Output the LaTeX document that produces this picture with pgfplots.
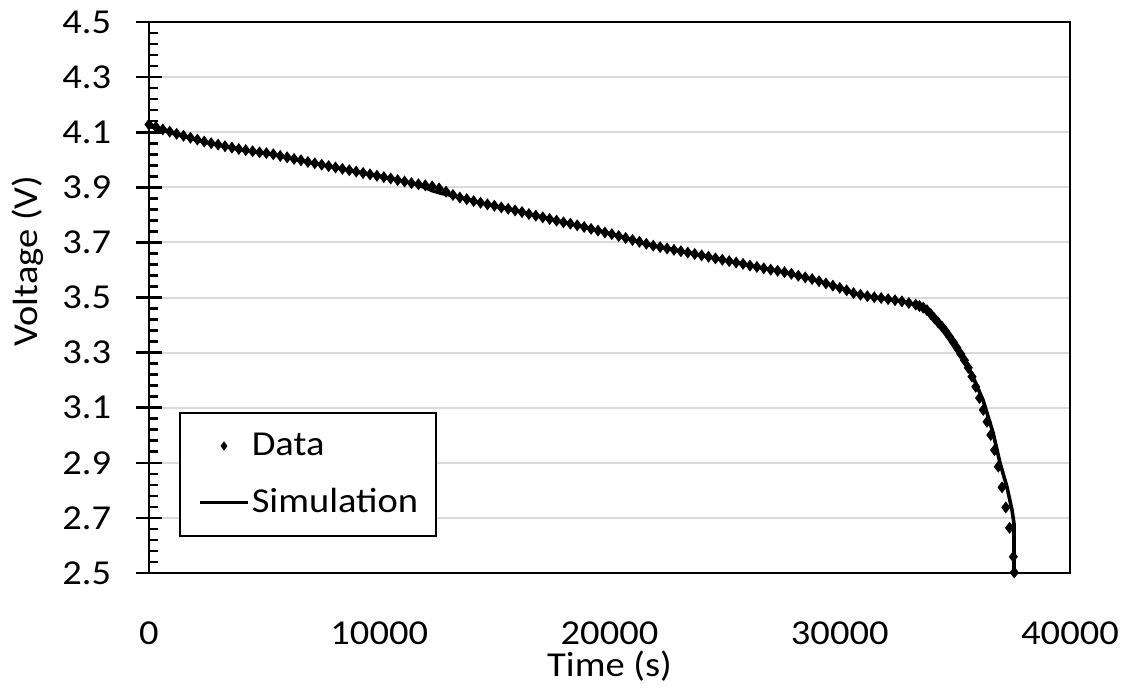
\documentclass[border=0pt]{standalone}
\usepackage{fontspec}
\setmainfont{Carlito}[FakeStretch=1.1]
\usepackage{pgfplots}
\usepackage{pgfplotstable}
\pgfplotsset{compat=1.18}

\definecolor{gridgray}{HTML}{D9D9D9}
\newcommand\chartfont{\fontsize{17.5}{21}\selectfont}

\pgfplotsset{
  datalegend/.style={legend image code/.code={%
    \draw[mark repeat=2, mark phase=2, ##1, mark size=1.9pt]
      plot coordinates {(0pt,0pt) (12pt,0pt) (24pt,0pt)};}},
  simlegend/.style={legend image code/.code={%
    \draw[##1] (0pt,0pt) -- (24pt,0pt);}},
}

% Measured cell voltage during discharge
\pgfplotstableread{
t V
0 4.128
300 4.119
600 4.110
900 4.102
1200 4.094
1500 4.087
1800 4.080
2100 4.073
2400 4.066
2700 4.060
3000 4.055
3300 4.049
3600 4.044
3900 4.039
4200 4.035
4500 4.031
4800 4.027
5100 4.024
5400 4.020
5700 4.014
6000 4.009
6300 4.003
6600 3.998
6900 3.992
7200 3.987
7500 3.982
7800 3.977
8100 3.972
8400 3.967
8700 3.962
9000 3.957
9300 3.952
9600 3.947
9900 3.942
10200 3.937
10500 3.932
10800 3.926
11100 3.921
11400 3.915
11700 3.911
12000 3.907
12300 3.903
12600 3.896
12900 3.884
13200 3.872
13500 3.863
13800 3.857
14100 3.850
14400 3.844
14700 3.838
15000 3.833
15300 3.827
15600 3.822
15900 3.816
16200 3.810
16500 3.803
16800 3.797
17100 3.791
17400 3.785
17700 3.779
18000 3.773
18300 3.768
18600 3.762
18900 3.756
19200 3.749
19500 3.743
19800 3.736
20100 3.730
20400 3.723
20700 3.716
21000 3.709
21300 3.702
21600 3.695
21900 3.688
22200 3.683
22500 3.678
22800 3.673
23100 3.668
23400 3.663
23700 3.658
24000 3.653
24300 3.648
24600 3.642
24900 3.637
25200 3.632
25500 3.627
25800 3.622
26100 3.616
26400 3.611
26700 3.606
27000 3.601
27300 3.597
27600 3.592
27900 3.586
28200 3.579
28500 3.573
28800 3.567
29100 3.559
29400 3.551
29700 3.543
30000 3.535
30300 3.526
30600 3.516
30900 3.510
31200 3.505
31500 3.501
31800 3.498
32100 3.494
32400 3.490
32700 3.486
33000 3.480
33299 3.474
33462 3.469
33625 3.463
33788 3.454
33951 3.440
34114 3.424
34277 3.409
34440 3.394
34603 3.377
34766 3.358
34929 3.338
35092 3.317
35255 3.295
35418 3.272
35581 3.245
35744 3.213
35907 3.176
36070 3.135
36233 3.092
36396 3.049
36559 3.001
36722 2.946
36885 2.886
37048 2.811
37211 2.738
37374 2.664
37537 2.559
37580 2.502
}\measured

% Model output
\pgfplotstableread{
t V
0 4.122
1042 4.096
2519 4.062
3952 4.037
5385 4.019
6862 3.992
8295 3.968
10032 3.940
11480 3.914
11900 3.902
12300 3.888
12700 3.878
13000 3.873
13362 3.866
14375 3.844
15808 3.818
17272 3.787
18718 3.760
20455 3.722
21890 3.688
23352 3.664
24798 3.639
26232 3.614
27695 3.590
28837 3.566
29865 3.539
30574 3.517
31168 3.505
31878 3.497
32600 3.488
33354 3.473
33702 3.460
34049 3.432
34483 3.390
34917 3.340
35352 3.284
35786 3.212
36221 3.128
36655 3.010
36959 2.900
37263 2.812
37480 2.729
37567 2.680
37567 2.500
}\simulated

\begin{document}
\begin{tikzpicture}
\path[use as bounding box] (-74.5pt,-57pt) rectangle (490.5pt,286.5pt);
\begin{axis}[
  scale only axis,
  width=460.5pt, height=275.5pt,
  xmin=0, xmax=40000, ymin=2.5, ymax=4.5,
  clip=false,
  axis line style={line width=1.3pt, black},
  xtick={0,10000,20000,30000,40000},
  xticklabels={0,10000,20000,30000,40000},
  ytick={2.5,2.7,2.9,3.1,3.3,3.5,3.7,3.9,4.1,4.3,4.5},
  yticklabels={2.5,2.7,2.9,3.1,3.3,3.5,3.7,3.9,4.1,4.3,4.5},
  minor y tick num=4,
  ytick pos=left,
  xtick pos=left,
  ytick align=center,
  major tick length=12.5pt,
  minor tick length=4.5pt,
  xtick style={draw=none},
  ytick style={black, line width=1.3pt},
  minor y tick style={xshift=2.25pt},
  ymajorgrids,
  major grid style={line width=1pt, gridgray},
  tick label style={font=\chartfont},
  xticklabel style={anchor=center, inner sep=0pt, yshift=-30pt},
  yticklabel style={anchor=east, inner sep=0pt, xshift=-12.5pt},
  xlabel={Time (s)},
  ylabel={Voltage (V)},
  every axis x label/.style={at={(axis description cs:0.5,-0.169)},
    anchor=center, font=\chartfont},
  every axis y label/.style={at={(axis description cs:-0.1319,0.566)},
    rotate=90, anchor=center, font=\chartfont},
  legend style={at={(0.0326,0.2922)}, anchor=north west, draw=black,
    line width=1.2pt, fill=white, inner xsep=9pt, inner ysep=10pt,
    row sep=15pt, column sep=1pt, font=\chartfont,
    nodes={inner sep=0pt}},
  legend cell align=left,
]
\addplot[only marks, mark=diamond*, mark size=2.6pt,
  mark options={fill=black, draw=black, line width=0.5pt}, datalegend]
  table[x=t, y=V] {\measured};
\addlegendentry{Data}
\addplot[black, line width=1.8pt, no marks, simlegend]
  table[x=t, y=V] {\simulated};
\addlegendentry{Simulation}
\end{axis}
\end{tikzpicture}
\end{document}
